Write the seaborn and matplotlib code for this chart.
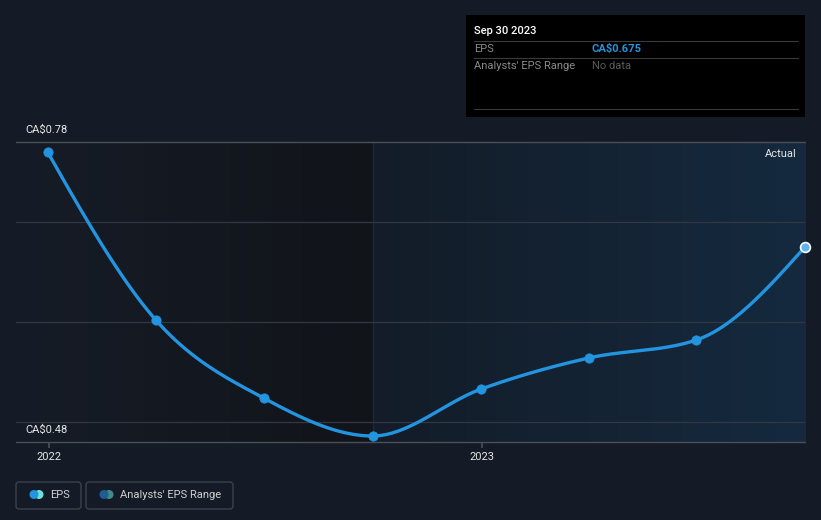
import numpy as np
import pandas as pd
import matplotlib
matplotlib.use("Agg")
import matplotlib.pyplot as plt
import matplotlib.colors as mcolors
from matplotlib.patches import FancyBboxPatch, Rectangle, Circle
import seaborn as sns

# ---- data ----
quarters = ["Dec 2021", "Mar 2022", "Jun 2022", "Sep 2022",
            "Dec 2022", "Mar 2023", "Jun 2023", "Sep 2023"]
x_years = [2021.997, 2022.247, 2022.496, 2022.748,
           2022.999, 2023.247, 2023.496, 2023.747]
eps = [0.770, 0.602, 0.524, 0.486, 0.533, 0.564, 0.582, 0.675]
y_tick_labels = ["CA$0.48", "CA$0.78"]
y_tick_values = [0.48, 0.78]
x_tick_values = [2022.0, 2023.0]
x_tick_labels = ["2022", "2023"]
forecast_start = 2022.748

sns.set_theme(style="dark")
plt.rcParams["font.family"] = ["Roboto", "DejaVu Sans"]

BG = "#151b26"
LINE = "#2394df"
W, H = 821, 520
fig = plt.figure(figsize=(W / 100, H / 100), dpi=100, facecolor=BG)

def px_axes(x0, y0, x1, y1):
    return [x0 / W, 1 - y1 / H, (x1 - x0) / W, (y1 - y0) / H]

ax = fig.add_axes(px_axes(16, 142, 805, 442))
ax.set_facecolor(BG)
xmin, xmax = 2021.924, 2023.747
ymin, ymax = 0.48, 0.78
ax.set_xlim(xmin, xmax)
ax.set_ylim(ymin, ymax)

# background gradients
def hgrad(c0, c1, x0, x1):
    c0 = np.array(mcolors.to_rgb(c0)); c1 = np.array(mcolors.to_rgb(c1))
    t = np.linspace(0, 1, 1024)[None, :, None]
    img = np.repeat(c0 + (c1 - c0) * t, 2, axis=0)
    ax.imshow(img, extent=[x0, x1, ymin, ymax], aspect="auto", zorder=0,
              interpolation="nearest")

hgrad("#161c27", "#111419", xmin, forecast_start)
hgrad("#131c28", "#152a3f", forecast_start, xmax)
ax.axvline(forecast_start, color="#1a2a3d", lw=1, zorder=1)

# gridlines
for v in [0.50, 0.60, 0.70]:
    ax.axhline(v, color="#323843", lw=0.9, zorder=1)
ax.axhline(0.78, color="#4a4f58", lw=1.0, zorder=1, clip_on=False)
ax.axhline(0.48, color="#4a4f58", lw=1.0, zorder=1, clip_on=False)

# monotone cubic interpolation (like d3 curveMonotoneX)
def monotone(xs, ys, n=40):
    xs = np.asarray(xs, float); ys = np.asarray(ys, float)
    h = np.diff(xs); d = np.diff(ys) / h
    m = np.zeros_like(ys)
    for i in range(1, len(xs) - 1):
        if d[i - 1] * d[i] <= 0:
            m[i] = 0
        else:
            p = (d[i - 1] * h[i] + d[i] * h[i - 1]) / (h[i - 1] + h[i])
            m[i] = (np.sign(d[i - 1]) + np.sign(d[i])) * min(abs(d[i - 1]), abs(d[i]), 0.5 * abs(p))
    m[0] = (3 * d[0] - m[1]) / 2
    m[-1] = (3 * d[-1] - m[-2]) / 2
    X, Y = [], []
    for i in range(len(xs) - 1):
        t = np.linspace(0, 1, n)
        h00 = 2 * t**3 - 3 * t**2 + 1; h10 = t**3 - 2 * t**2 + t
        h01 = -2 * t**3 + 3 * t**2; h11 = t**3 - t**2
        X.append(xs[i] + t * h[i])
        Y.append(h00 * ys[i] + h10 * h[i] * m[i] + h01 * ys[i + 1] + h11 * h[i] * m[i + 1])
    return np.concatenate(X), np.concatenate(Y)

sx, sy = monotone(x_years, eps)
curve = pd.DataFrame({"x": sx, "y": sy})
pts = pd.DataFrame({"x": x_years, "y": eps, "q": quarters})
sns.lineplot(data=curve, x="x", y="y", ax=ax, color=LINE, lw=2.4, zorder=3,
             estimator=None, sort=False)
sns.scatterplot(data=pts.iloc[:-1], x="x", y="y", ax=ax, color=LINE, s=45,
                edgecolor=LINE, zorder=4)
sns.scatterplot(data=pts.iloc[-1:], x="x", y="y", ax=ax, color="#5fb4ee", s=50,
                edgecolor="white", linewidth=1.2, zorder=5, clip_on=False)

ax.set_xlabel(""); ax.set_ylabel("")
ax.set_xticks(x_tick_values)
ax.set_xticklabels(x_tick_labels, color="#e6e6e6", fontsize=8)
ax.tick_params(axis="x", length=4, color="#4a4f58", pad=3, bottom=True)
ax.set_yticks([])
for s in ax.spines.values():
    s.set_visible(False)

# y labels and "Actual"
fig.text(25 / W, 1 - 130 / H, y_tick_labels[1].replace("$", r"\$"),
         fontsize=8, color="#e6e6e6", va="center", ha="left")
fig.text(25 / W, 1 - 430 / H, y_tick_labels[0].replace("$", r"\$"),
         fontsize=8, color="#e6e6e6", va="center", ha="left")
fig.text(797 / W, 1 - 154 / H, "Actual", fontsize=8, color="#e6e6e6",
         va="center", ha="right")

# tooltip box
fig.patches.append(Rectangle((466 / W, 1 - 117 / H), 339 / W, 102 / H,
                             transform=fig.transFigure, facecolor="#000000",
                             edgecolor="none", zorder=10))
for yy in [41, 58, 109]:
    fig.lines.append(plt.Line2D([474 / W, 798 / W], [1 - yy / H] * 2,
                                transform=fig.transFigure, color="#3a3a3a",
                                lw=0.8, zorder=11))
fig.text(474 / W, 1 - 31 / H, "Sep 30 2023", fontsize=8, color="#ffffff",
         va="center", ha="left", zorder=12, fontweight="medium")
fig.text(474 / W, 1 - 49 / H, "EPS", fontsize=8, color="#8a8a8a",
         va="center", ha="left", zorder=12)
fig.text(592 / W, 1 - 49 / H, r"CA\$0.675", fontsize=8, color=LINE,
         va="center", ha="left", zorder=12, fontweight="bold")
fig.text(474 / W, 1 - 66 / H, "Analysts' EPS Range", fontsize=8, color="#8a8a8a",
         va="center", ha="left", zorder=12)
fig.text(592 / W, 1 - 66 / H, "No data", fontsize=8, color="#5a5a5a",
         va="center", ha="left", zorder=12)

# legend (pixel-coordinate overlay axes)
legend_ax = fig.add_axes([0, 0, 1, 1], facecolor="none")
legend_ax.set_xlim(0, W); legend_ax.set_ylim(H, 0); legend_ax.axis("off")
for (x0, x1, c1, c2, label, tx) in [(16, 81, "#2394df", "#6ee0dc", "EPS", 50),
                                   (86, 233, "#1f5d92", "#3f8a8a", "Analysts' EPS Range", 120)]:
    legend_ax.add_patch(FancyBboxPatch((x0, 482), x1 - x0, 27,
                                       boxstyle="round,pad=0,rounding_size=3",
                                       facecolor="none", edgecolor="#3c414b", lw=1))
    legend_ax.add_patch(Circle((x0 + 23, 494.5), 4.5, facecolor=c2, edgecolor="none"))
    legend_ax.add_patch(Circle((x0 + 18, 494.5), 4.5, facecolor=c1, edgecolor="none"))
    legend_ax.text(tx, 494.5, label, fontsize=8, color="#d0d0d0", va="center", ha="left")

fig.savefig("out.png", dpi=100, facecolor=BG)
